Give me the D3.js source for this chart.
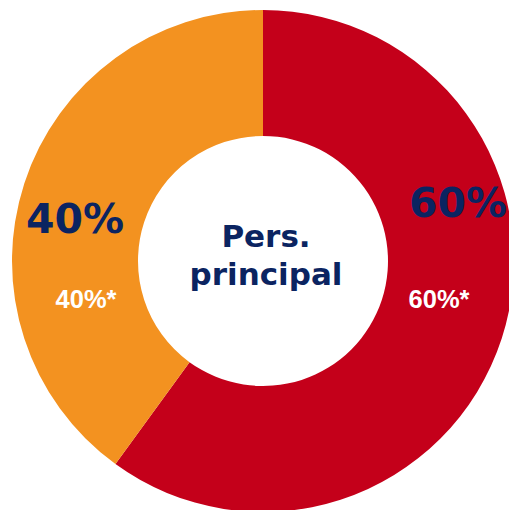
<!DOCTYPE html>
<html>
<head>
<meta charset="utf-8">
<script src="https://d3js.org/d3.v7.min.js"></script>
<style>
  html, body { margin: 0; padding: 0; background: #fff; overflow: hidden; }
  .big { font-family: "DejaVu Sans", Verdana, sans-serif; font-weight: bold; fill: #0b2461; text-anchor: middle; }
  .small { font-family: "Liberation Sans", Arial, sans-serif; font-weight: bold; fill: #fff; text-anchor: middle; }
</style>
</head>
<body>
<svg id="chart" width="509" height="510"></svg>
<script>
var categories = ["Rot", "Orange"];
var values = [60, 40];
var labels = ["60%", "40%"];
var subLabels = ["60%*", "40%*"];
var colors = ["#c4001a", "#f39220"];
var centerText = ["Pers.", "principal"];

// label positions (relative to centre)
var labelPos = [[195, -44], [-188, -28]];
var subPos = [[176, 47], [-177, 47]];

var svg = d3.select("#chart");
var cx = 263, cy = 261, outerR = 251, innerR = 125;
var g = svg.append("g").attr("transform", "translate(" + cx + "," + cy + ")");

var pie = d3.pie().sort(null).value(function(d) { return d; });
var arc = d3.arc().innerRadius(innerR).outerRadius(outerR);

g.selectAll("path")
  .data(pie(values))
  .enter()
  .append("path")
    .attr("d", arc)
    .attr("fill", function(d, i) { return colors[i]; });

g.selectAll("text.big-label")
  .data(labels)
  .enter()
  .append("text")
    .attr("class", "big")
    .attr("font-size", 41)
    .attr("x", function(d, i) { return labelPos[i][0]; })
    .attr("y", function(d, i) { return labelPos[i][1]; })
    .text(function(d) { return d; });

g.selectAll("text.sub-label")
  .data(subLabels)
  .enter()
  .append("text")
    .attr("class", "small")
    .attr("font-size", 25.5)
    .attr("x", function(d, i) { return subPos[i][0]; })
    .attr("y", function(d, i) { return subPos[i][1]; })
    .text(function(d) { return d; });

g.selectAll("text.center")
  .data(centerText)
  .enter()
  .append("text")
    .attr("class", "big")
    .attr("font-size", 31)
    .attr("x", 3)
    .attr("y", function(d, i) { return -14 + i * 38; })
    .text(function(d) { return d; });
</script>
</body>
</html>
